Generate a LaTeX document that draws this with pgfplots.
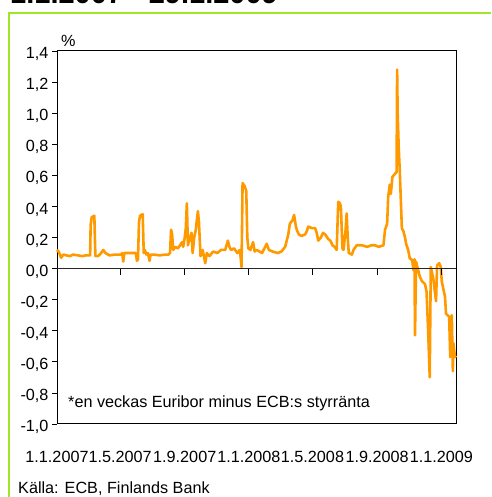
\documentclass[border=0pt]{standalone}
\usepackage{pgfplots}
\pgfplotsset{compat=1.18}
\usepackage{fontspec}
\setmainfont{Liberation Sans}
\definecolor{frgreen}{RGB}{160,230,40}
\definecolor{lineor}{RGB}{255,153,0}
\begin{document}
\begin{tikzpicture}
\useasboundingbox (0pt,0pt) rectangle (491pt,497pt);
\begin{scope}
\clip (0pt,0pt) rectangle (491pt,497pt);
\node[anchor=base west, font=\fontsize{29}{32}\selectfont\bfseries, inner sep=0] at (10pt,493pt) {1.1.2007 - 29.1.2009};
\end{scope}
\draw[frgreen, line width=2pt] (9pt,0pt) -- (9pt,484pt) -- (491pt,484pt);
\begin{axis}[
  at={(57pt,73pt)}, anchor=south west,
  width=399pt, height=373pt, scale only axis,
  xmin=0, xmax=759, ymin=-1, ymax=1.4,
  font=\fontsize{16.2}{19}\selectfont,
  xtick={0,120,243,365,486,609,731},
  xticklabels={1.1.2007,1.5.2007,1.9.2007,1.1.2008,1.5.2008,1.9.2008,1.1.2009},
  xtick style={draw=none},
  xticklabel style={anchor=base, yshift=-33pt},
  ytick={-1,-0.8,-0.6,-0.4,-0.2,0,0.2,0.4,0.6,0.8,1.0,1.2,1.4},
  ytick pos=left,
  tick align=outside,
  major tick length=5pt,
  ytick style={black, line width=0.8pt},
  /pgf/number format/fixed,
  /pgf/number format/fixed zerofill,
  /pgf/number format/precision=1,
  /pgf/number format/use comma,
  /pgf/number format/assume math mode=true,
  yticklabel style={yshift=-3pt},
  axis line style={black, line width=1pt},
  clip=false,
]
\addplot[lineor, line width=2.6pt, line join=round] table {
x y
0 0.12
3 0.11
8 0.07
12 0.09
18 0.085
25 0.08
30 0.09
40 0.085
48 0.08
55 0.085
63 0.085
64 0.28
66 0.33
71 0.34
73 0.08
78 0.08
84 0.1
88 0.12
92 0.1
100 0.085
110 0.09
118 0.09
122 0.09
124 0.1
126 0.045
128 0.1
135 0.1
142 0.1
150 0.1
152 0.05
154 0.06
156 0.3
158 0.34
163 0.35
165 0.1
167 0.12
170 0.09
173 0.1
176 0.05
178 0.09
185 0.09
195 0.085
205 0.09
212 0.09
215 0.1
217 0.25
219 0.22
221 0.12
225 0.14
230 0.13
234 0.15
238 0.17
240 0.14
243 0.2
245 0.26
247 0.42
249 0.15
253 0.2
256 0.23
258 0.1
261 0.2
264 0.25
268 0.37
270 0.3
273 0.08
277 0.12
282 0.035
285 0.1
290 0.08
297 0.11
305 0.1
312 0.12
320 0.12
325 0.18
328 0.14
331 0.12
337 0.13
343 0.1
348 0.12
351 0.01
353 0.55
357 0.53
360 0.5
362 0.2
364 0.13
368 0.12
373 0.17
376 0.11
380 0.12
390 0.1
399 0.16
403 0.12
410 0.11
420 0.1
427 0.11
434 0.14
440 0.22
443 0.29
448 0.31
451 0.345
454 0.28
456 0.25
460 0.22
465 0.21
472 0.22
475 0.24
478 0.27
485 0.26
491 0.26
494 0.23
497 0.18
502 0.2
506 0.23
510 0.22
516 0.19
520 0.18
524 0.15
528 0.14
532 0.12
535 0.43
538 0.42
540 0.40
543 0.13
545 0.12
549 0.25
551 0.355
553 0.2
555 0.10
561 0.09
564 0.12
570 0.15
580 0.15
590 0.14
598 0.15
605 0.15
612 0.14
621 0.15
624 0.25
628 0.29
630 0.46
633 0.54
635 0.48
638 0.59
643 0.61
646 0.62
647 1.28
648 1.0
650 0.78
652 0.63
656 0.26
659 0.24
662 0.2
664 0.16
668 0.12
671 0.066
674 0.06
676 0.045
678 -0.01
680 0.06
681 -0.43
683 0.045
687 -0.01
690 -0.05
694 -0.08
700 -0.1
703 -0.15
706 -0.4
709 -0.7
711 0.01
716 -0.07
721 -0.21
723 0.02
727 0.035
730 0.01
732 -0.085
738 -0.18
740 -0.29
746 -0.31
748 -0.57
751 -0.30
753 -0.66
754 -0.48
757 -0.57
759 -0.56
};
\end{axis}
\begin{axis}[
  at={(57pt,73pt)}, anchor=south west,
  width=399pt, height=373pt, scale only axis,
  xmin=0, xmax=759, ymin=-1, ymax=1.4,
  axis x line=middle, axis y line=none,
  axis line style={-, black!85, line width=1.2pt},
  xtick={120,243,365,486,609,731},
  xticklabels={},
  ytick=\empty,
  xtick align=outside,
  major tick length=6pt,
  xtick style={black, line width=0.8pt},
]
\addplot[draw=none] coordinates {(0,0)};
\end{axis}
\node[anchor=base west, font=\fontsize{16.2}{19}\selectfont, inner sep=0] at (61pt,450pt) {\%};
\node[anchor=base west, font=\fontsize{16.2}{19}\selectfont, inner sep=0] at (68pt,89pt) {*en veckas Euribor minus ECB:s styrränta};
\node[anchor=base west, font=\fontsize{16.2}{19}\selectfont, inner sep=0] at (18pt,3pt) {Källa: ECB, Finlands Bank};
\end{tikzpicture}
\end{document}
